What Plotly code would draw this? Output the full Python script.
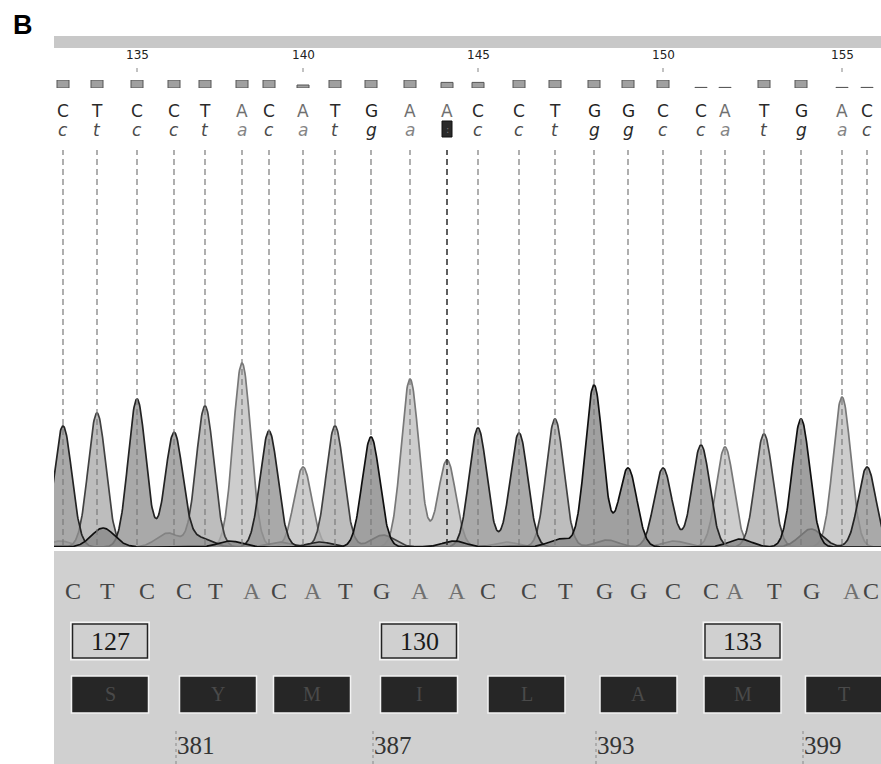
import numpy as np
import plotly.graph_objects as go

# ---------------- data ----------------
bases = list("CTCCTACATGAACCTGGCCATGAC")
peak_scan = [9, 43, 83, 120, 151, 188, 215, 249, 281, 317, 356, 393,
             424, 465, 501, 540, 574, 609, 647, 671, 710, 747, 788, 813]
peak_height = [121, 134, 148, 114, 141, 184, 116, 80, 121, 110, 168, 87,
               119, 114, 128, 162, 79, 79, 102, 100, 113, 128, 150, 80]
quality = [40, 40, 40, 40, 40, 40, 40, 15, 40, 40, 40, 28,
           28, 40, 40, 40, 40, 40, 3, 3, 40, 40, 3, 3]
# small background peaks: (trace, scan, height)
minor_peaks = [("G", 49, 19), ("T", 114, 14), ("C", 146, 9), ("A", 6, 6),
               ("G", 176, 6), ("C", 266, 5), ("T", 329, 12), ("G", 506, 8),
               ("T", 553, 7), ("T", 620, 6), ("G", 686, 8), ("C", 757, 18),
               ("A", 452, 5), ("G", 400, 6), ("T", 225, 5)]
first_position = 133
first_nucleotide = 378
amino_acids = ["S", "Y", "M", "I", "L", "A", "M", "T"]
first_aa_number = 127
highlight_index = 11

# ---------------- geometry / styles ----------------
FW, FH = 881, 764
X0 = 54
SIGMA = 8.8


def xp(px):
    return px / FW


def yp(py):
    return 1 - py / FH


trace_style = {
    "A": dict(line="rgb(120,120,120)", fill="rgba(192,192,192,0.8)"),
    "T": dict(line="rgb(65,65,65)", fill="rgba(172,172,172,0.8)"),
    "C": dict(line="rgb(35,35,35)", fill="rgba(148,148,148,0.8)"),
    "G": dict(line="rgb(15,15,15)", fill="rgba(136,136,136,0.8)"),
}
upper_col = {"A": "#707070", "C": "#2a2a2a", "G": "#1e1e1e", "T": "#2a2a2a"}
lower_col = {"A": "#858585", "C": "#4a4a4a", "G": "#2a2a2a", "T": "#4a4a4a"}
bottom_col = {"A": "#707070", "C": "#454545", "G": "#454545", "T": "#454545"}

fig = go.Figure()

# ---------------- chromatogram traces ----------------
xs = np.arange(-40, 870, 0.5)
for b in ["A", "T", "C", "G"]:
    ys = np.zeros_like(xs, dtype=float)
    for base, s, h in zip(bases, peak_scan, peak_height):
        if base == b:
            ys += h * np.exp(-((xs - s) ** 2) / (2 * SIGMA ** 2))
    for base, s, h in minor_peaks:
        if base == b:
            ys += h * np.exp(-((xs - s) ** 2) / (2 * (SIGMA * 1.3) ** 2))
    fig.add_trace(go.Scatter(
        x=xs, y=ys, mode="lines", fill="tozeroy",
        line=dict(color=trace_style[b]["line"], width=1.7),
        fillcolor=trace_style[b]["fill"], hoverinfo="skip", showlegend=False,
        xaxis="x", yaxis="y"))

# ---------------- quality bars ----------------
fig.add_trace(go.Bar(
    x=peak_scan, y=quality, width=12, xaxis="x", yaxis="y2",
    marker=dict(color="#a0a0a0", line=dict(color="#555555", width=1)),
    hoverinfo="skip", showlegend=False))

shapes = []
ann = []

# top grey bar
shapes.append(dict(type="rect", xref="paper", yref="paper",
                   x0=xp(X0), x1=1, y0=yp(48), y1=yp(36),
                   fillcolor="#c8c8c8", line=dict(width=0), layer="above"))
# bottom grey panel
shapes.append(dict(type="rect", xref="paper", yref="paper",
                   x0=xp(X0), x1=1, y0=0, y1=yp(551),
                   fillcolor="#d0d0d0", line=dict(width=0), layer="above"))

# position numbers + ticks
for i, s in enumerate(peak_scan):
    pos = first_position + i
    if pos % 5 == 0:
        ann.append(dict(x=s, xref="x", y=yp(55), yref="paper", text=str(pos),
                        showarrow=False, xanchor="center", yanchor="middle",
                        font=dict(family="DejaVu Sans", size=12, color="#222222")))
        shapes.append(dict(type="line", xref="x", yref="paper", x0=s, x1=s,
                           y0=yp(72), y1=yp(68),
                           line=dict(color="#999999", width=1.2), layer="above"))

# called bases (upper) and lower-case calls
for i, (b, s) in enumerate(zip(bases, peak_scan)):
    ann.append(dict(x=s, xref="x", y=yp(111), yref="paper", text=b,
                    showarrow=False, xanchor="center", yanchor="middle",
                    font=dict(family="DejaVu Sans", size=17, color=upper_col[b])))
    if i == highlight_index:
        shapes.append(dict(type="rect", xref="x", yref="paper",
                           x0=s - 5, x1=s + 5, y0=yp(137), y1=yp(121),
                           fillcolor="#2a2a2a", line=dict(color="#111111", width=1),
                           layer="above"))
        ann.append(dict(x=s, xref="x", y=yp(129), yref="paper", text=":",
                        showarrow=False, xanchor="center", yanchor="middle",
                        font=dict(family="DejaVu Sans", size=10, color="#777777")))
    else:
        ann.append(dict(x=s, xref="x", y=yp(130), yref="paper",
                        text="<i>" + b.lower() + "</i>",
                        showarrow=False, xanchor="center", yanchor="middle",
                        font=dict(family="DejaVu Sans", size=17, color=lower_col[b])))
    # dashed guide line
    dark = i == highlight_index
    shapes.append(dict(type="line", xref="x", yref="paper", x0=s, x1=s,
                       y0=yp(545), y1=yp(150),
                       line=dict(color="#2a2a2a" if dark else "#7a7a7a",
                                 width=1.5 if dark else 1.2, dash="6px,4px"),
                       layer="above"))
    # bottom sequence letters
    last = i == len(bases) - 1
    ann.append(dict(x=s, xref="x", y=yp(591), yref="paper", text=b,
                    xshift=4 if last else 10, showarrow=False,
                    xanchor="center", yanchor="middle",
                    font=dict(family="Liberation Serif", size=24, color=bottom_col[b])))

# codons: amino-acid boxes and numbering
n = len(peak_scan)
for k, aa in enumerate(amino_acids):
    i0, i1 = 3 * k, min(3 * k + 2, n - 1)
    mid = (peak_scan[i0] + peak_scan[i1]) / 2 + 10
    x0, x1 = mid - 38.5, mid + 38.5
    shapes.append(dict(type="rect", xref="x", yref="paper", x0=x0, x1=x1,
                       y0=yp(713), y1=yp(676), fillcolor="#262626",
                       line=dict(color="#f2f2f2", width=1.5), layer="above"))
    ann.append(dict(x=mid, xref="x", y=yp(694), yref="paper", text=aa,
                    showarrow=False, xanchor="center", yanchor="middle",
                    font=dict(family="Liberation Serif", size=20, color="#4a4a4a")))
    num = first_aa_number + k
    if (num - first_aa_number) % 3 == 0:
        shapes.append(dict(type="rect", xref="x", yref="paper", x0=x0, x1=x1,
                           y0=yp(659), y1=yp(623), fillcolor="rgba(0,0,0,0)",
                           line=dict(color="#f4f4f4", width=3), layer="above"))
        shapes.append(dict(type="rect", xref="x", yref="paper", x0=x0 + 1, x1=x1 - 1,
                           y0=yp(658), y1=yp(624), fillcolor="rgba(0,0,0,0)",
                           line=dict(color="#222222", width=1.5), layer="above"))
        ann.append(dict(x=mid, xref="x", y=yp(641), yref="paper", text=str(num),
                        showarrow=False, xanchor="center", yanchor="middle",
                        font=dict(family="Liberation Serif", size=26, color="#1a1a1a")))

# nucleotide numbering along the bottom
for i, s in enumerate(peak_scan):
    nt = first_nucleotide + i
    if (nt - 381) % 6 == 0:
        ann.append(dict(x=s, xref="x", y=yp(745), yref="paper", text=str(nt),
                        xshift=1, showarrow=False, xanchor="left", yanchor="middle",
                        font=dict(family="Liberation Serif", size=25, color="#333333")))
        shapes.append(dict(type="line", xref="x", yref="paper", x0=s + 2, x1=s + 2,
                           y0=0, y1=yp(731),
                           line=dict(color="#888888", width=1, dash="dot"), layer="above"))

# panel letter
ann.append(dict(x=xp(11), xref="paper", y=yp(25), yref="paper", text="<b>B</b>",
                showarrow=False, xanchor="left", yanchor="middle",
                font=dict(family="Liberation Sans", size=27, color="#000000")))

fig.update_layout(
    width=FW, height=FH, margin=dict(l=0, r=0, t=0, b=0),
    paper_bgcolor="white", plot_bgcolor="white",
    xaxis=dict(domain=[xp(X0), 1], range=[0, 881 - X0], visible=False, fixedrange=True),
    yaxis=dict(domain=[yp(547), yp(147)], range=[0, 400], visible=False, fixedrange=True),
    yaxis2=dict(domain=[yp(88), yp(80)], range=[0, 40], visible=False, fixedrange=True),
    shapes=shapes, annotations=ann, showlegend=False, bargap=0,
)

fig.write_html(
    "out.html",
    config={"displayModeBar": False, "staticPlot": True},
    post_script="document.body.style.margin='0';"
                "document.documentElement.style.overflow='hidden';",
)
